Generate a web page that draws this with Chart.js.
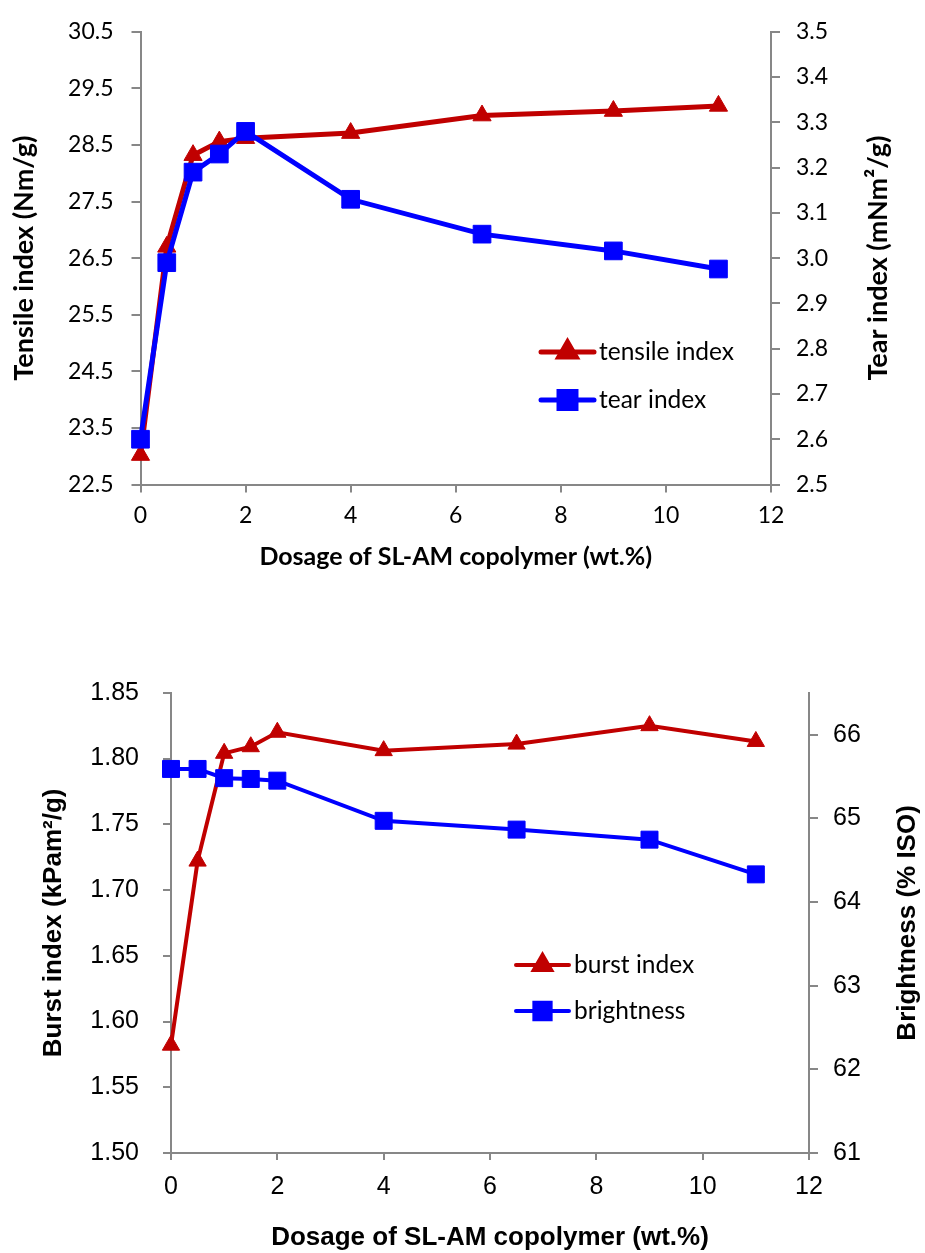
<!DOCTYPE html>
<html>
<head>
<meta charset="utf-8">
<script src="https://cdn.jsdelivr.net/npm/chart.js@4/dist/chart.umd.min.js"></script>
<style>
  html, body { margin: 0; padding: 0; background: #fff; }
  .box { position: absolute; left: 0; width: 925px; }
  #box1 { top: 0; height: 600px; }
  #box2 { top: 600px; height: 653px; }
</style>
</head>
<body>
<div class="box" id="box1"><canvas id="topChart" width="925" height="600"></canvas></div>
<div class="box" id="box2"><canvas id="bottomChart" width="925" height="653"></canvas></div>
<script>
// data
const dosage = [0, 0.5, 1, 1.5, 2, 4, 6.5, 9, 11];
const tensileIndex = [23.02, 26.7, 28.32, 28.56, 28.62, 28.71, 29.02, 29.1, 29.19];
const tearIndex = [2.60, 2.99, 3.19, 3.23, 3.28, 3.13, 3.053, 3.016, 2.976];
const burstIndex = [1.582, 1.722, 1.804, 1.809, 1.820, 1.806, 1.811, 1.825, 1.813];
const brightness = [65.59, 65.59, 65.48, 65.47, 65.45, 64.97, 64.865, 64.745, 64.33];

const xTicks = [0, 2, 4, 6, 8, 10, 12];
const tensileTicks = [22.5, 23.5, 24.5, 25.5, 26.5, 27.5, 28.5, 29.5, 30.5];
const tearTicks = [2.5, 2.6, 2.7, 2.8, 2.9, 3.0, 3.1, 3.2, 3.3, 3.4, 3.5];
const burstTicks = [1.50, 1.55, 1.60, 1.65, 1.70, 1.75, 1.80, 1.85];
const brightTicks = [61, 62, 63, 64, 65, 66];

const RED = '#C00000';
const BLUE = '#0000FF';
const AXIS = '#878787';
const CAL = 'Lato, Carlito, sans-serif';
const ARIAL = '"Liberation Sans", Arial, sans-serif';

function pts(ys) {
  return dosage.map((x, i) => ({ x: x, y: ys[i] }));
}

function fixTicks(list) {
  return function (scale) { scale.ticks = list.map(v => ({ value: v })); };
}

function lineSet(label, ys, color, style, radius, width, axis, order) {
  return {
    label: label, data: pts(ys), yAxisID: axis, order: order,
    showLine: true, borderColor: color, backgroundColor: color, borderWidth: width,
    pointStyle: style, pointRadius: radius, pointHoverRadius: radius,
    pointBackgroundColor: color, pointBorderColor: color, pointBorderWidth: 1,
    clip: false, tension: 0
  };
}

// legend + right-side titles drawn by hand (Excel style, inside the plot)
const extras = {
  id: 'extras',
  afterDraw(chart, args, opts) {
    const ctx = chart.ctx;
    ctx.save();
    opts.legend.forEach(item => {
      ctx.strokeStyle = item.color;
      ctx.fillStyle = item.color;
      ctx.lineWidth = item.lineWidth;
      ctx.lineCap = 'round';
      ctx.beginPath();
      ctx.moveTo(item.x1, item.y);
      ctx.lineTo(item.x2, item.y);
      ctx.stroke();
      Chart.helpers.drawPoint(ctx, { pointStyle: item.style, radius: item.radius, borderWidth: 1, rotation: 0 },
        (item.x1 + item.x2) / 2, item.y);
      ctx.fillStyle = '#000';
      ctx.font = opts.legendFont;
      ctx.textAlign = 'left';
      ctx.textBaseline = 'middle';
      ctx.fillText(item.text, item.x2 + 5, item.y);
    });
    const a = chart.chartArea;
    ctx.translate(opts.rightTitle.x, (a.top + a.bottom) / 2);
    ctx.rotate(-Math.PI / 2);
    ctx.fillStyle = '#000';
    ctx.font = opts.rightTitle.font;
    ctx.textAlign = 'center';
    ctx.textBaseline = 'middle';
    ctx.fillText(opts.rightTitle.text, 0, 0);
    ctx.restore();
  }
};

function gridOpts(len) {
  return { drawOnChartArea: false, drawTicks: true, tickLength: len, color: AXIS, lineWidth: 2 };
}

// ---- top chart: tensile / tear ----
new Chart(document.getElementById('topChart'), {
  type: 'scatter',
  data: {
    datasets: [
      lineSet('tensile index', tensileIndex, RED, 'triangle', 10.5, 5, 'yL', 1),
      lineSet('tear index', tearIndex, BLUE, 'rect', 12.5, 5, 'yR', 0)
    ]
  },
  plugins: [extras],
  options: {
    responsive: false,
    animation: false,
    events: [],
    layout: { padding: { top: 22.7, left: 0, right: 0, bottom: 0 } },
    plugins: {
      legend: { display: false },
      tooltip: { enabled: false },
      extras: {
        legendFont: '24.5px ' + CAL,
        legend: [
          { text: 'tensile index', color: RED, style: 'triangle', radius: 10, lineWidth: 5, x1: 541, x2: 594, y: 352 },
          { text: 'tear index', color: BLUE, style: 'rect', radius: 12, lineWidth: 5, x1: 541, x2: 594, y: 400 }
        ],
        rightTitle: { text: 'Tear index (mNm\u00B2/g)', x: 878, font: 'bold 27px ' + CAL }
      }
    },
    scales: {
      x: {
        type: 'linear', position: 'bottom', min: 0, max: 12,
        afterBuildTicks: fixTicks(xTicks),
        afterFit(s) { s.height = 115.5; },
        grid: gridOpts(8),
        border: { color: AXIS, width: 2 },
        ticks: { color: '#000', padding: 9, font: { family: CAL, size: 23 } },
        title: { display: true, text: 'Dosage of SL-AM copolymer (wt.%)', color: '#000',
          font: { family: CAL, size: 25, weight: 'bold' }, padding: { top: 0, bottom: 28 } }
      },
      yL: {
        type: 'linear', position: 'left', min: 22.5, max: 30.5,
        afterBuildTicks: fixTicks(tensileTicks),
        afterFit(s) { s.width = 140.5; },
        grid: gridOpts(9),
        border: { color: AXIS, width: 2 },
        ticks: { color: '#000', padding: 18, font: { family: CAL, size: 23 },
          callback: v => v.toFixed(1) },
        title: { display: true, text: 'Tensile index (Nm/g)', color: '#000',
          font: { family: CAL, size: 27, weight: 'bold' }, padding: { top: 8, bottom: 0 } }
      },
      yR: {
        type: 'linear', position: 'right', min: 2.5, max: 3.5,
        afterBuildTicks: fixTicks(tearTicks),
        afterFit(s) { s.width = 154; },
        grid: gridOpts(9),
        border: { color: AXIS, width: 2 },
        ticks: { color: '#000', padding: 16, font: { family: CAL, size: 23 },
          callback: v => v.toFixed(1) }
      }
    }
  }
});

// ---- bottom chart: burst / brightness ----
new Chart(document.getElementById('bottomChart'), {
  type: 'scatter',
  data: {
    datasets: [
      lineSet('burst index', burstIndex, RED, 'triangle', 10, 4, 'yL', 1),
      lineSet('brightness', brightness, BLUE, 'rect', 12, 4, 'yR', 0)
    ]
  },
  plugins: [extras],
  options: {
    responsive: false,
    animation: false,
    events: [],
    layout: { padding: { top: 92.8, left: 0, right: 0, bottom: 0 } },
    plugins: {
      legend: { display: false },
      tooltip: { enabled: false },
      extras: {
        legendFont: '24.5px ' + CAL,
        legend: [
          { text: 'burst index', color: RED, style: 'triangle', radius: 10, lineWidth: 4, x1: 516, x2: 569, y: 365 },
          { text: 'brightness', color: BLUE, style: 'rect', radius: 11.5, lineWidth: 4, x1: 516, x2: 569, y: 411 }
        ],
        rightTitle: { text: 'Brightness (% ISO)', x: 908, font: 'bold 26px ' + ARIAL }
      }
    },
    scales: {
      x: {
        type: 'linear', position: 'bottom', min: 0, max: 12,
        afterBuildTicks: fixTicks(xTicks),
        afterFit(s) { s.height = 100; },
        grid: gridOpts(7),
        border: { color: AXIS, width: 2 },
        ticks: { color: '#000', padding: 12, font: { family: ARIAL, size: 25 } },
        title: { display: true, text: 'Dosage of SL-AM copolymer (wt.%)', color: '#000',
          font: { family: ARIAL, size: 26, weight: 'bold' }, padding: { top: 0, bottom: 0 } }
      },
      yL: {
        type: 'linear', position: 'left', min: 1.5, max: 1.85,
        afterBuildTicks: fixTicks(burstTicks),
        afterFit(s) { s.width = 171; },
        grid: gridOpts(8),
        border: { color: AXIS, width: 2 },
        ticks: { color: '#000', padding: 24, font: { family: ARIAL, size: 25 },
          callback: v => v.toFixed(2) },
        title: { display: true, text: 'Burst index (kPam\u00B2/g)', color: '#000',
          font: { family: ARIAL, size: 26, weight: 'bold' }, padding: { top: 38, bottom: 0 } }
      },
      yR: {
        type: 'linear', position: 'right', min: 61, max: 66.5,
        afterBuildTicks: fixTicks(brightTicks),
        afterFit(s) { s.width = 116; },
        grid: gridOpts(9),
        border: { color: AXIS, width: 2 },
        ticks: { color: '#000', padding: 15, font: { family: ARIAL, size: 25 },
          callback: v => String(v) }
      }
    }
  }
});
</script>
</body>
</html>
